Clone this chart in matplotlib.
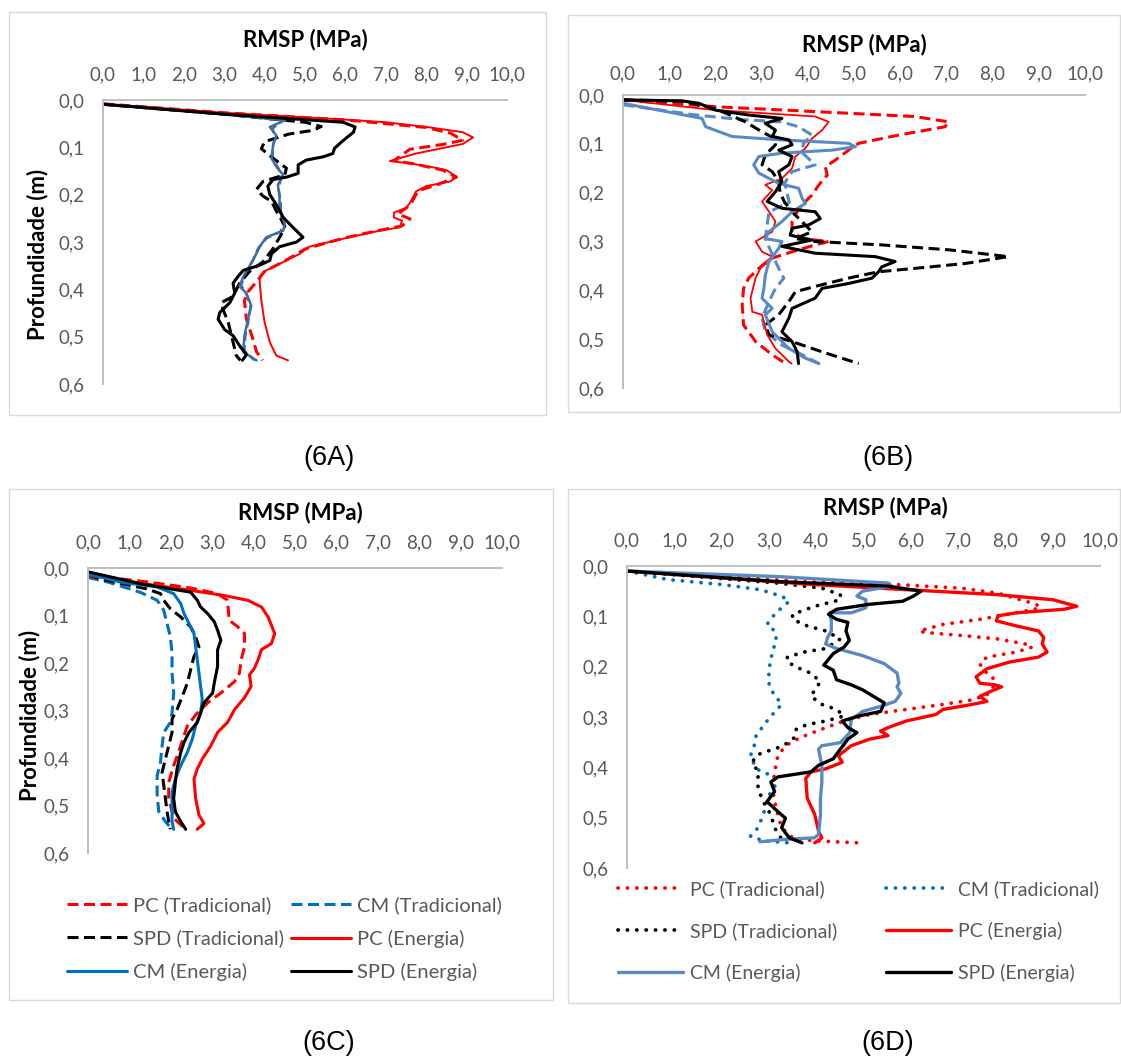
import matplotlib
matplotlib.use("Agg")
import matplotlib.pyplot as plt
from matplotlib.patches import Rectangle

# ---------------- data (RMSP in MPa, depth in m) ----------------
X_TICKS = [0, 1, 2, 3, 4, 5, 6, 7, 8, 9, 10]
X_TICK_LABELS = ["0,0", "1,0", "2,0", "3,0", "4,0", "5,0", "6,0", "7,0", "8,0", "9,0", "10,0"]
Y_TICKS = [0.0, 0.1, 0.2, 0.3, 0.4, 0.5, 0.6]
Y_TICK_LABELS = ["0,0", "0,1", "0,2", "0,3", "0,4", "0,5", "0,6"]
SERIES_NAMES = ["PC (Tradicional)", "CM (Tradicional)", "SPD (Tradicional)",
                "PC (Energia)", "CM (Energia)", "SPD (Energia)"]
CAPTIONS = ["(6A)", "(6B)", "(6C)", "(6D)"]
X_TITLE = "RMSP (MPa)"
Y_TITLE = "Profundidade (m)"

# Panel 6A : (RMSP, depth)
A_PC_TRAD = [(0.0, 0.008), (3.0, 0.027), (6.0, 0.042), (8.0, 0.058), (8.6, 0.07), (8.9, 0.085),
             (8.4, 0.094), (7.6, 0.104), (7.2, 0.128), (7.7, 0.135), (8.4, 0.148), (8.75, 0.163),
             (8.3, 0.178), (7.8, 0.192), (7.6, 0.222), (7.3, 0.241), (7.6, 0.251), (7.4, 0.266),
             (6.8, 0.276), (6.0, 0.291), (5.4, 0.305), (5.0, 0.315), (4.5, 0.34), (4.0, 0.362),
             (3.8, 0.384), (3.6, 0.404), (3.5, 0.424), (3.55, 0.463), (3.7, 0.502), (3.8, 0.532),
             (3.95, 0.55)]
A_CM_TRAD = [(0.0, 0.009), (3.0, 0.03), (4.45, 0.043), (4.2, 0.06), (4.25, 0.08), (4.2, 0.1),
             (4.2, 0.125), (4.35, 0.145), (4.4, 0.165), (4.35, 0.19), (4.4, 0.215), (4.4, 0.24),
             (4.45, 0.262), (4.4, 0.278), (4.05, 0.292), (3.85, 0.312), (3.7, 0.34), (3.5, 0.37),
             (3.42, 0.392), (3.55, 0.41), (3.65, 0.437), (3.6, 0.465), (3.52, 0.5), (3.5, 0.53),
             (3.75, 0.55)]
A_SPD_TRAD = [(0.0, 0.009), (3.0, 0.03), (5.0, 0.047), (5.4, 0.056), (5.2, 0.064), (4.6, 0.072),
              (4.0, 0.088), (3.92, 0.103), (4.21, 0.123), (4.54, 0.144), (4.5, 0.158), (3.96, 0.172),
              (3.8, 0.189), (3.96, 0.203), (4.17, 0.214), (4.3, 0.236), (4.5, 0.266), (4.4, 0.286),
              (4.2, 0.315), (3.96, 0.342), (3.63, 0.362), (3.38, 0.387), (3.22, 0.415), (2.93, 0.428),
              (2.97, 0.442), (3.1, 0.47), (3.22, 0.512), (3.3, 0.54), (3.4, 0.55)]
A_PC_EN = [(0.0, 0.008), (3.0, 0.027), (6.1, 0.042), (7.0, 0.047), (8.1, 0.058), (8.9, 0.068),
           (9.16, 0.079), (8.9, 0.093), (7.75, 0.113), (7.1, 0.129), (7.6, 0.134), (8.1, 0.141),
           (8.5, 0.148), (8.75, 0.162), (8.6, 0.172), (8.0, 0.182), (7.75, 0.193), (7.6, 0.217),
           (7.5, 0.228), (7.2, 0.238), (7.2, 0.248), (7.4, 0.255), (7.35, 0.269), (6.85, 0.276),
           (6.1, 0.29), (5.45, 0.303), (5.1, 0.31), (4.87, 0.325), (4.54, 0.339), (4.04, 0.36),
           (3.88, 0.373), (3.88, 0.387), (3.92, 0.424), (4.0, 0.47), (4.13, 0.512), (4.29, 0.54),
           (4.58, 0.55)]
A_CM_EN = [(0.0, 0.009), (3.0, 0.03), (4.5, 0.043), (4.13, 0.057), (4.29, 0.075), (4.21, 0.096),
           (4.17, 0.123), (4.29, 0.141), (4.46, 0.158), (4.33, 0.179), (4.37, 0.207), (4.37, 0.228),
           (4.5, 0.262), (4.46, 0.276), (4.04, 0.29), (3.88, 0.31), (3.71, 0.339), (3.47, 0.373),
           (3.38, 0.394), (3.55, 0.408), (3.67, 0.435), (3.59, 0.463), (3.5, 0.498), (3.47, 0.532),
           (3.8, 0.55)]
A_SPD_EN = [(0.0, 0.009), (3.0, 0.03), (5.94, 0.047), (6.24, 0.057), (6.2, 0.068), (5.94, 0.086),
            (5.73, 0.102), (5.69, 0.113), (5.45, 0.12), (5.03, 0.127), (4.83, 0.137), (4.83, 0.155),
            (4.54, 0.163), (4.21, 0.168), (4.08, 0.182), (4.13, 0.2), (4.29, 0.221), (4.46, 0.248),
            (4.7, 0.269), (4.95, 0.29), (4.79, 0.3), (4.37, 0.31), (4.17, 0.325), (4.13, 0.339),
            (3.88, 0.349), (3.47, 0.36), (3.34, 0.373), (3.22, 0.387), (3.26, 0.408), (3.14, 0.428),
            (2.89, 0.449), (2.85, 0.463), (3.01, 0.485), (3.22, 0.498), (3.38, 0.519), (3.55, 0.538),
            (3.45, 0.55)]

# Panel 6B
B_PC_TRAD = [(0.0, 0.01), (2.0, 0.024), (4.16, 0.034), (6.3, 0.044), (7.05, 0.055), (6.97, 0.065),
             (5.97, 0.082), (5.1, 0.099), (4.88, 0.113), (4.6, 0.133), (4.38, 0.147), (4.42, 0.164),
             (4.24, 0.184), (4.09, 0.205), (3.95, 0.218), (3.77, 0.239), (3.66, 0.259), (3.66, 0.28),
             (3.88, 0.294), (4.45, 0.3), (4.16, 0.307), (3.66, 0.321), (3.23, 0.334), (2.94, 0.355),
             (2.72, 0.375), (2.61, 0.396), (2.58, 0.43), (2.61, 0.471), (2.87, 0.505), (3.23, 0.532),
             (3.52, 0.55)]
B_CM_TRAD = [(0.0, 0.02), (1.5, 0.04), (2.5, 0.05), (3.44, 0.055), (3.8, 0.065), (4.09, 0.082),
             (3.9, 0.1), (3.9, 0.12), (4.16, 0.143), (3.66, 0.157), (3.5, 0.18), (3.55, 0.2),
             (3.6, 0.22), (3.16, 0.239), (3.12, 0.266), (3.08, 0.294), (3.2, 0.32), (3.37, 0.355),
             (3.48, 0.375), (3.3, 0.396), (3.16, 0.423), (3.01, 0.457), (3.08, 0.485), (3.44, 0.512),
             (3.88, 0.532), (4.24, 0.55)]
B_SPD_TRAD = [(0.0, 0.01), (1.3, 0.013), (2.0, 0.028), (2.65, 0.055), (3.0, 0.075), (3.3, 0.09),
              (3.3, 0.102), (3.08, 0.123), (3.01, 0.143), (3.23, 0.157), (3.37, 0.177), (3.4, 0.2),
              (3.5, 0.22), (3.66, 0.239), (3.88, 0.26), (4.09, 0.28), (3.73, 0.294), (4.16, 0.3),
              (5.6, 0.307), (7.05, 0.317), (8.34, 0.331), (7.41, 0.345), (6.32, 0.355), (5.53, 0.362),
              (4.88, 0.375), (4.16, 0.392), (3.73, 0.403), (3.59, 0.423), (3.37, 0.45), (3.08, 0.471),
              (3.16, 0.491), (3.66, 0.505), (4.31, 0.526), (5.1, 0.55)]
B_PC_EN = [(0.0, 0.01), (2.0, 0.031), (4.16, 0.044), (4.45, 0.055), (4.31, 0.072), (4.09, 0.089),
           (3.95, 0.109), (3.73, 0.126), (3.66, 0.15), (3.44, 0.171), (3.08, 0.184), (3.23, 0.195),
           (3.01, 0.218), (3.16, 0.239), (3.3, 0.259), (3.23, 0.28), (2.87, 0.3), (3.01, 0.321),
           (3.23, 0.331), (3.01, 0.348), (2.87, 0.375), (2.76, 0.416), (2.8, 0.444), (3.01, 0.45),
           (3.12, 0.491), (3.3, 0.519), (3.59, 0.546), (3.65, 0.55)]
B_CM_EN = [(0.0, 0.017), (1.71, 0.048), (1.79, 0.065), (2.36, 0.085), (3.44, 0.092), (4.88, 0.099),
           (5.03, 0.106), (4.52, 0.113), (3.44, 0.119), (2.94, 0.126), (2.83, 0.143), (2.94, 0.16),
           (3.37, 0.181), (3.8, 0.191), (3.88, 0.212), (3.95, 0.222), (3.66, 0.239), (3.44, 0.259),
           (3.16, 0.28), (3.08, 0.294), (3.44, 0.3), (3.37, 0.314), (3.16, 0.341), (3.08, 0.369),
           (3.05, 0.396), (3.01, 0.416), (3.23, 0.437), (3.08, 0.45), (3.23, 0.485), (3.59, 0.519),
           (3.95, 0.539), (4.24, 0.55)]
B_SPD_EN = [(0.0, 0.01), (1.28, 0.012), (1.64, 0.017), (2.0, 0.031), (2.72, 0.041), (3.44, 0.048),
            (3.08, 0.058), (3.3, 0.072), (3.23, 0.085), (3.59, 0.092), (3.66, 0.102), (3.37, 0.113),
            (3.66, 0.126), (3.59, 0.143), (3.37, 0.157), (3.44, 0.177), (3.3, 0.198), (3.12, 0.218),
            (3.44, 0.232), (4.16, 0.239), (4.27, 0.253), (4.02, 0.266), (3.66, 0.273), (3.62, 0.287),
            (4.09, 0.297), (3.44, 0.31), (4.16, 0.324), (5.46, 0.331), (5.89, 0.341), (5.6, 0.352),
            (5.53, 0.362), (5.39, 0.375), (4.88, 0.386), (4.31, 0.396), (4.16, 0.416), (3.66, 0.437),
            (3.59, 0.457), (3.44, 0.485), (3.66, 0.505), (3.77, 0.526), (3.8, 0.55)]

# Panel 6C
C_PC_TRAD = [(0.0, 0.015), (1.5, 0.03), (2.48, 0.042), (3.13, 0.054), (3.37, 0.068), (3.41, 0.11),
             (3.62, 0.124), (3.78, 0.138), (3.78, 0.166), (3.7, 0.193), (3.66, 0.221), (3.54, 0.239),
             (3.21, 0.263), (2.89, 0.284), (2.64, 0.305), (2.4, 0.332), (2.24, 0.374), (2.07, 0.416),
             (1.95, 0.451), (1.95, 0.485), (2.07, 0.527), (2.36, 0.55)]
C_CM_TRAD = [(0.0, 0.02), (0.5, 0.03), (1.26, 0.051), (1.67, 0.068), (1.83, 0.089), (1.91, 0.117),
             (1.99, 0.145), (2.03, 0.179), (2.03, 0.221), (2.07, 0.263), (2.03, 0.305), (1.99, 0.325),
             (1.83, 0.346), (1.79, 0.374), (1.75, 0.409), (1.67, 0.437), (1.67, 0.478), (1.71, 0.513),
             (1.87, 0.534), (2.03, 0.55)]
C_SPD_TRAD = [(0.0, 0.015), (0.45, 0.026), (1.42, 0.044), (1.75, 0.054), (1.83, 0.068), (1.99, 0.086),
              (2.24, 0.103), (2.48, 0.124), (2.6, 0.145), (2.68, 0.166), (2.56, 0.186), (2.48, 0.214),
              (2.4, 0.242), (2.28, 0.27), (2.15, 0.298), (2.03, 0.318), (2.03, 0.346), (1.95, 0.374),
              (1.87, 0.402), (1.79, 0.43), (1.83, 0.458), (1.87, 0.485), (1.91, 0.513), (1.95, 0.534),
              (1.99, 0.55)]
C_PC_EN = [(0.0, 0.015), (1.5, 0.035), (2.48, 0.047), (3.29, 0.058), (3.86, 0.068), (4.19, 0.082),
           (4.35, 0.103), (4.51, 0.138), (4.43, 0.159), (4.19, 0.172), (4.11, 0.193), (4.02, 0.211),
           (3.9, 0.225), (3.94, 0.249), (3.78, 0.273), (3.54, 0.298), (3.37, 0.325), (3.13, 0.346),
           (2.97, 0.374), (2.76, 0.402), (2.64, 0.423), (2.56, 0.444), (2.6, 0.485), (2.68, 0.52),
           (2.8, 0.538), (2.64, 0.55)]
C_CM_EN = [(0.0, 0.012), (0.8, 0.03), (1.67, 0.04), (2.07, 0.054), (2.24, 0.075), (2.32, 0.096),
           (2.44, 0.117), (2.56, 0.138), (2.6, 0.166), (2.64, 0.193), (2.68, 0.221), (2.72, 0.249),
           (2.76, 0.277), (2.72, 0.305), (2.6, 0.332), (2.52, 0.36), (2.4, 0.388), (2.24, 0.416),
           (2.11, 0.444), (2.03, 0.471), (2.03, 0.506), (2.03, 0.534), (2.07, 0.55)]
C_SPD_EN = [(0.0, 0.008), (1.26, 0.033), (2.48, 0.051), (2.64, 0.068), (2.72, 0.082), (2.89, 0.096),
            (3.05, 0.113), (3.13, 0.131), (3.21, 0.152), (3.13, 0.172), (3.13, 0.207), (3.05, 0.242),
            (3.01, 0.263), (2.8, 0.284), (2.72, 0.305), (2.64, 0.325), (2.44, 0.346), (2.32, 0.367),
            (2.24, 0.388), (2.15, 0.423), (2.11, 0.451), (2.07, 0.485), (2.11, 0.513), (2.24, 0.534),
            (2.36, 0.55)]

# Panel 6D
D_PC_TRAD = [(0.0, 0.01), (3.97, 0.032), (5.52, 0.036), (7.07, 0.044), (7.84, 0.054), (8.54, 0.073),
             (8.74, 0.08), (8.62, 0.086), (7.46, 0.106), (6.68, 0.116), (6.18, 0.129), (6.29, 0.132),
             (7.07, 0.138), (7.84, 0.145), (8.42, 0.155), (8.57, 0.161), (8.23, 0.171), (7.61, 0.181),
             (7.46, 0.194), (7.53, 0.207), (7.73, 0.22), (7.77, 0.236), (7.61, 0.256), (7.3, 0.266),
             (6.68, 0.275), (5.9, 0.285), (5.13, 0.295), (4.59, 0.308), (4.12, 0.324), (3.66, 0.341),
             (3.35, 0.357), (3.19, 0.377), (3.12, 0.409), (3.08, 0.442), (3.12, 0.468), (3.19, 0.494),
             (3.27, 0.52), (3.5, 0.54), (3.97, 0.546), (4.9, 0.55)]
D_CM_TRAD = [(0.0, 0.01), (0.87, 0.027), (2.03, 0.037), (2.81, 0.047), (3.27, 0.06), (3.43, 0.07),
             (3.27, 0.083), (3.12, 0.096), (2.96, 0.116), (3.12, 0.129), (3.16, 0.148), (3.08, 0.168),
             (3.04, 0.187), (3.0, 0.207), (3.0, 0.233), (3.12, 0.259), (3.27, 0.272), (3.19, 0.285),
             (3.04, 0.298), (2.88, 0.318), (2.73, 0.337), (2.69, 0.357), (2.61, 0.377), (2.73, 0.403),
             (3.04, 0.416), (3.19, 0.429), (3.04, 0.448), (2.96, 0.468), (2.88, 0.494), (2.77, 0.52),
             (2.61, 0.537), (2.88, 0.546), (3.43, 0.55)]
D_SPD_TRAD = [(0.0, 0.01), (3.19, 0.034), (4.12, 0.044), (4.51, 0.057), (4.51, 0.067), (3.97, 0.08),
              (3.5, 0.096), (3.5, 0.106), (3.81, 0.119), (4.2, 0.129), (4.51, 0.145), (4.2, 0.164),
              (3.74, 0.171), (3.39, 0.181), (3.39, 0.191), (3.66, 0.204), (3.89, 0.213), (4.09, 0.23),
              (3.97, 0.246), (3.89, 0.259), (4.12, 0.275), (4.43, 0.285), (4.59, 0.298), (4.2, 0.308),
              (3.81, 0.315), (3.58, 0.324), (3.54, 0.341), (3.35, 0.354), (3.12, 0.364), (2.88, 0.37),
              (2.73, 0.377), (2.65, 0.39), (2.77, 0.409), (2.77, 0.442), (2.88, 0.468), (3.04, 0.494),
              (3.12, 0.52), (3.27, 0.543), (3.3, 0.55)]
D_PC_EN = [(0.0, 0.01), (3.97, 0.037), (6.29, 0.049), (7.84, 0.057), (9.0, 0.067), (9.51, 0.08),
           (9.24, 0.086), (8.23, 0.093), (7.84, 0.099), (7.81, 0.109), (8.23, 0.119), (8.7, 0.129),
           (8.81, 0.142), (8.78, 0.155), (8.88, 0.171), (8.7, 0.181), (8.08, 0.191), (7.61, 0.204),
           (7.38, 0.22), (7.46, 0.233), (7.77, 0.236), (7.92, 0.24), (7.69, 0.249), (7.46, 0.259),
           (7.61, 0.269), (7.3, 0.275), (6.68, 0.285), (6.53, 0.295), (5.9, 0.308), (5.52, 0.321),
           (5.36, 0.328), (5.52, 0.337), (5.13, 0.344), (4.74, 0.357), (4.47, 0.377), (4.55, 0.39),
           (4.2, 0.403), (3.89, 0.409), (3.78, 0.422), (3.81, 0.461), (3.97, 0.494), (4.05, 0.527),
           (4.12, 0.54), (3.97, 0.55)]
D_CM_EN = [(0.0, 0.01), (3.19, 0.021), (5.52, 0.034), (5.6, 0.04), (4.98, 0.05), (4.86, 0.06),
           (5.05, 0.067), (5.05, 0.083), (4.74, 0.093), (4.28, 0.093), (4.32, 0.109), (4.32, 0.129),
           (4.24, 0.142), (4.2, 0.155), (4.43, 0.164), (4.98, 0.178), (5.44, 0.194), (5.71, 0.213),
           (5.75, 0.233), (5.71, 0.24), (5.79, 0.253), (5.67, 0.269), (5.36, 0.279), (4.98, 0.289),
           (4.74, 0.305), (4.71, 0.331), (4.51, 0.351), (4.12, 0.357), (4.05, 0.364), (4.12, 0.396),
           (4.12, 0.429), (4.09, 0.461), (4.09, 0.494), (4.05, 0.533), (3.97, 0.54), (3.35, 0.543),
           (2.81, 0.548)]
D_SPD_EN = [(0.0, 0.01), (3.19, 0.031), (5.52, 0.04), (6.22, 0.05), (6.05, 0.06), (5.83, 0.07),
            (5.13, 0.076), (4.43, 0.086), (4.26, 0.096), (4.43, 0.106), (4.67, 0.112), (4.63, 0.129),
            (4.7, 0.148), (4.59, 0.161), (4.36, 0.174), (4.16, 0.197), (4.36, 0.207), (4.43, 0.226),
            (4.74, 0.236), (4.98, 0.246), (5.21, 0.259), (5.44, 0.272), (5.36, 0.289), (4.9, 0.298),
            (4.55, 0.308), (4.67, 0.321), (4.86, 0.331), (4.67, 0.344), (4.51, 0.364), (4.36, 0.383),
            (4.05, 0.396), (3.89, 0.409), (3.19, 0.419), (3.04, 0.429), (3.12, 0.448), (2.96, 0.468),
            (3.19, 0.488), (3.35, 0.501), (3.27, 0.52), (3.43, 0.54), (3.7, 0.55)]

PANEL_DATA = {
    "A": [A_PC_TRAD, A_CM_TRAD, A_SPD_TRAD, A_PC_EN, A_CM_EN, A_SPD_EN],
    "B": [B_PC_TRAD, B_CM_TRAD, B_SPD_TRAD, B_PC_EN, B_CM_EN, B_SPD_EN],
    "C": [C_PC_TRAD, C_CM_TRAD, C_SPD_TRAD, C_PC_EN, C_CM_EN, C_SPD_EN],
    "D": [D_PC_TRAD, D_CM_TRAD, D_SPD_TRAD, D_PC_EN, D_CM_EN, D_SPD_EN],
}

# ---------------- styles & layout ----------------
W, H = 1121, 1062
FONT = "Lato"
GRAY_TXT = "#595959"
AXIS_GRAY = "#BFBFBF"
BOX_GRAY = "#D9D9D9"
RED, BLACK = "#FF0000", "#000000"
DASH = (0, (3.6, 1.8))
DOT = (0, (0.05, 2.45))
TICK_FS = 13.5
TITLE_FS = 16


def styles(panel):
    if panel == "A":
        blue = "#3E6DA8"
        return [dict(color=RED, ls=DASH, lw=2.2), dict(color=blue, ls=DASH, lw=1.8),
                dict(color=BLACK, ls=DASH, lw=2.2), dict(color=RED, ls="-", lw=1.4),
                dict(color=blue, ls="-", lw=1.8), dict(color=BLACK, ls="-", lw=2.2)]
    if panel == "B":
        blue = "#5A8AC6"
        return [dict(color=RED, ls=DASH, lw=2.2), dict(color=blue, ls=DASH, lw=2.2),
                dict(color=BLACK, ls=DASH, lw=2.2), dict(color=RED, ls="-", lw=1.3),
                dict(color=blue, ls="-", lw=2.2), dict(color=BLACK, ls="-", lw=2.2)]
    if panel == "C":
        blue = "#0070C0"
        return [dict(color=RED, ls=DASH, lw=2.2), dict(color=blue, ls=DASH, lw=2.2),
                dict(color=BLACK, ls=DASH, lw=2.2), dict(color=RED, ls="-", lw=2.2),
                dict(color=blue, ls="-", lw=2.2), dict(color=BLACK, ls="-", lw=2.2)]
    return [dict(color=RED, ls=DOT, lw=2.7), dict(color="#0070C0", ls=DOT, lw=2.7),
            dict(color=BLACK, ls=DOT, lw=2.7), dict(color=RED, ls="-", lw=2.4),
            dict(color="#5A8AC6", ls="-", lw=2.4), dict(color=BLACK, ls="-", lw=2.4)]


# axes (x0, x10, y0, y06) px ; box (l, t, r, b) px
LAYOUT = {
    "A": dict(axes=(103, 507, 100, 384), box=(9, 12, 546, 415), title=(305, 40), xpad=12,
              ylabel=(38, 254), caption=(329, 458)),
    "B": dict(axes=(623, 1085, 95, 388), box=(568, 15, 1120, 412), title=(864, 45), xpad=9,
              ylabel=None, caption=(888, 458)),
    "C": dict(axes=(88, 502, 568, 853), box=(9, 489, 553, 1000), title=(300, 513), xpad=12,
              ylabel=(30, 715), caption=(329, 1043),
              legend=dict(cols=(67, 291), top=896, hl=3.0, pad=0.3, ls=0.78, fs=14.5)),
    "D": dict(axes=(627, 1100, 566, 868), box=(568, 489, 1120, 1003), title=(885, 508), xpad=12,
              ylabel=None, caption=(888, 1043),
              legend=dict(cols=(618, 886), top=880, hl=3.35, pad=0.36, ls=1.24, fs=14)),
}

fig = plt.figure(figsize=(W / 100, H / 100), dpi=100)
fig.patch.set_facecolor("white")

for key, panel_caption in zip(["A", "B", "C", "D"], CAPTIONS):
    lay = LAYOUT[key]
    x0, x10, y0, y06 = lay["axes"]
    l, t, r, b = lay["box"]
    fig.add_artist(Rectangle((l / W, 1 - b / H), (r - l) / W, (b - t) / H,
                             transform=fig.transFigure, fill=False,
                             edgecolor=BOX_GRAY, linewidth=1.0))
    ax = fig.add_axes([x0 / W, 1 - y06 / H, (x10 - x0) / W, (y06 - y0) / H])
    ax.set_xlim(0, 10)
    ax.set_ylim(0.6, 0)
    ax.xaxis.tick_top()
    ax.set_xticks(X_TICKS)
    ax.set_xticklabels(X_TICK_LABELS)
    ax.set_yticks(Y_TICKS)
    ax.set_yticklabels(Y_TICK_LABELS)
    ax.tick_params(axis="both", length=0, labelsize=TICK_FS, labelcolor=GRAY_TXT)
    ax.tick_params(axis="x", pad=lay["xpad"])
    ax.tick_params(axis="y", pad=13)
    for lab in ax.get_xticklabels() + ax.get_yticklabels():
        lab.set_fontfamily(FONT)
    for s in ["right", "bottom"]:
        ax.spines[s].set_visible(False)
    for s in ["top", "left"]:
        ax.spines[s].set_color(AXIS_GRAY)
        ax.spines[s].set_linewidth(1.4)

    handles = []
    for series, st, name in zip(PANEL_DATA[key], styles(key), SERIES_NAMES):
        xs = [p[0] for p in series]
        ys = [p[1] for p in series]
        ln, = ax.plot(xs, ys, color=st["color"], linestyle=st["ls"], linewidth=st["lw"],
                      solid_joinstyle="round", solid_capstyle="round",
                      dash_capstyle="round" if key == "D" else "butt", label=name)
        handles.append(ln)

    tx, ty = lay["title"]
    fig.text(tx / W, 1 - ty / H, X_TITLE, ha="center", va="center",
             fontsize=TITLE_FS, fontweight="bold", family=FONT, color="black")
    if lay["ylabel"] is not None:
        yx, yy = lay["ylabel"]
        fig.text(yx / W, 1 - yy / H, Y_TITLE, ha="center", va="center", rotation=90,
                 fontsize=TITLE_FS, fontweight="bold", family=FONT, color="black")
    cx, cy = lay["caption"]
    fig.text(cx / W, 1 - cy / H, panel_caption, ha="center", va="center",
             fontsize=19.5, family="Liberation Sans", color="black")

    if "legend" in lay:
        lg = lay["legend"]
        col_order = [[0, 2, 4], [1, 3, 5]]
        for ci, idxs in enumerate(col_order):
            leg = ax.legend([handles[i] for i in idxs], [SERIES_NAMES[i] for i in idxs],
                            loc="upper left",
                            bbox_to_anchor=(lg["cols"][ci] / W, 1 - lg["top"] / H),
                            bbox_transform=fig.transFigure, frameon=False, ncol=1,
                            handlelength=lg["hl"], handletextpad=lg["pad"],
                            labelspacing=lg["ls"], borderpad=0, borderaxespad=0,
                            prop=dict(family=FONT, size=lg["fs"]), labelcolor=GRAY_TXT)
            if ci == 0:
                ax.add_artist(leg)

fig.savefig("out.png", dpi=100, facecolor="white")
